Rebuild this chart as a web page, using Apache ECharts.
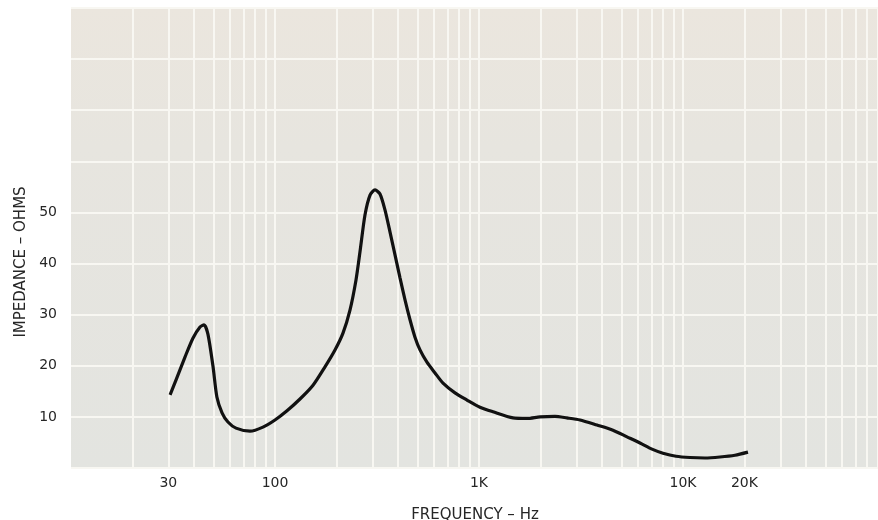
<!DOCTYPE html>
<html>
<head>
<meta charset="utf-8">
<script src="https://cdn.jsdelivr.net/npm/echarts@6/dist/echarts.min.js"></script>
<style>
html,body{margin:0;padding:0;background:#fff;}
#c{width:878px;height:520px;}
</style>
</head>
<body>
<div id="c"></div>
<script>
// Impedance curve (frequency in Hz, impedance in ohms)
var freq = [30.6, 32.7, 36.2, 39.6, 42.9, 44.9, 46.9, 49.7, 51.9, 55.0, 58.8, 64.4, 75.4, 87.3, 100, 114.5, 132.6, 153.6, 175.8, 196.8, 215.4, 233.1, 249.5, 261, 276.1, 292.3, 309.3, 327.1, 346, 366.1, 387.5, 410, 433.8, 459, 485.5, 513.8, 555.7, 608.6, 666.2, 762.6, 873.1, 1011, 1171, 1468, 1719, 1990, 2358, 2698, 3126, 3787, 4536, 5315, 6152, 7047, 7978, 9241, 10818, 12817, 15177, 17980, 20822];
var impedance = [14.3, 17.2, 21.7, 25.4, 27.6, 28.0, 26.2, 19.8, 13.9, 10.8, 9.0, 7.8, 7.2, 8.0, 9.4, 11.2, 13.5, 16.2, 19.8, 23.1, 26.4, 30.9, 36.8, 42.3, 49.5, 53.4, 54.4, 53.6, 50.5, 46.2, 41.7, 37.2, 32.9, 29.0, 25.6, 23.1, 20.7, 18.6, 16.6, 14.7, 13.3, 11.9, 11.0, 9.8, 9.7, 10.0, 10.1, 9.8, 9.4, 8.4, 7.4, 6.1, 4.9, 3.7, 2.9, 2.3, 2.05, 1.96, 2.15, 2.5, 3.1];

// Axis tick labels
var xTickValues = [30, 100, 1000, 10000, 20000];
var xTickLabels = ['30', '100', '1K', '10K', '20K'];
var yTickValues = [10, 20, 30, 40, 50];

// Log-paper vertical rulings
var gridFreqs = [20,30,40,50,60,70,80,90,100,200,300,400,500,600,700,800,900,1000,2000,3000,4000,5000,6000,7000,8000,9000,10000,20000,30000,40000,50000,60000,70000,80000,90000];

var chart = echarts.init(document.getElementById('c'), null, {renderer: 'canvas'});
var pts = freq.map(function (f, i) { return [f, impedance[i]]; });
var labelMap = {};
xTickValues.forEach(function (v, i) { labelMap[v] = xTickLabels[i]; });

var font = '"DejaVu Sans", "Liberation Sans", sans-serif';
var ink = '#262626';

chart.setOption({
  backgroundColor: '#ffffff',
  animation: false,
  grid: {
    left: 71, right: -9, top: 8, bottom: 52,
    containLabel: false,
    outerBoundsMode: 'none',
    show: true,
    borderWidth: 0,
    backgroundColor: {
      type: 'linear', x: 0, y: 0, x2: 0, y2: 1,
      colorStops: [
        {offset: 0, color: '#ebe6de'},
        {offset: 0.3, color: '#e7e5df'},
        {offset: 1, color: '#e3e4e0'}
      ]
    }
  },
  xAxis: {
    type: 'log',
    logBase: 10,
    min: 10,
    max: 100000,
    name: 'FREQUENCY \u2013 Hz',
    nameLocation: 'middle',
    nameGap: 40,
    nameTextStyle: {fontFamily: font, fontSize: 15, color: ink, padding: [0, 8, 0, 0]},
    axisLine: {show: false},
    axisTick: {show: false},
    splitLine: {show: false},
    axisLabel: {
      customValues: xTickValues,
      formatter: function (v) { return labelMap[v] !== undefined ? labelMap[v] : ''; },
      fontFamily: font, fontSize: 14, color: ink, margin: 8
    }
  },
  yAxis: {
    type: 'value',
    min: 0,
    max: 90,
    interval: 10,
    name: 'IMPEDANCE \u2013 OHMS',
    nameLocation: 'middle',
    nameGap: 40,
    nameRotate: 90,
    nameTextStyle: {fontFamily: font, fontSize: 15, color: ink, padding: [0, 48, 0, 0]},
    axisLine: {show: false},
    axisTick: {show: false},
    splitLine: {show: true, lineStyle: {color: '#f8f7f2', width: 2}},
    axisLabel: {
      customValues: yTickValues,
      fontFamily: font, fontSize: 14, color: ink, margin: 14
    }
  },
  series: [
    {
      type: 'line',
      data: [],
      z: 1,
      silent: true,
      markLine: {
        silent: true,
        z: 1,
        symbol: 'none',
        animation: false,
        label: {show: false},
        lineStyle: {color: '#f8f7f2', width: 2, type: 'solid'},
        data: gridFreqs.map(function (f) { return {xAxis: f}; })
      }
    },
    {
      type: 'line',
      data: pts,
      z: 10,
      smooth: 0.25,
      showSymbol: false,
      lineStyle: {color: '#111111', width: 3.2}
    }
  ]
});
</script>
</body>
</html>
